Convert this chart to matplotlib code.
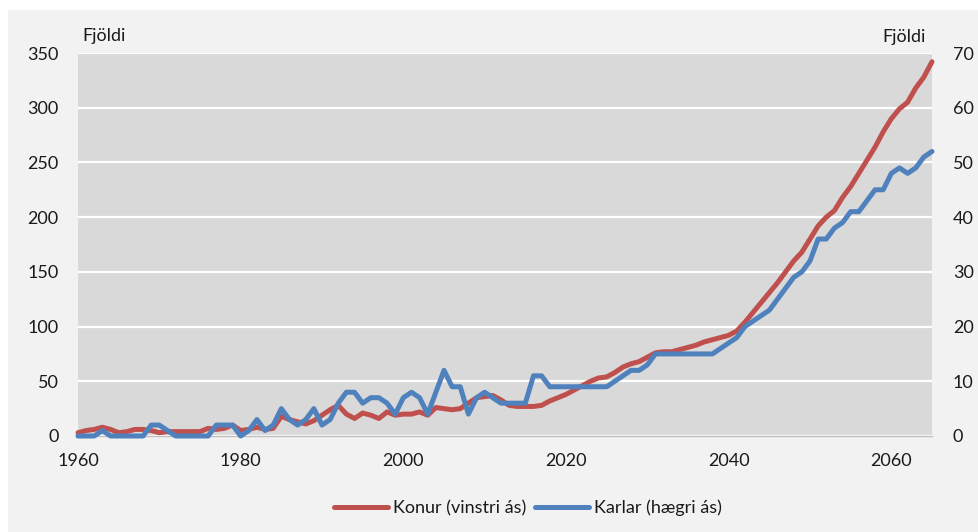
import numpy as np
import matplotlib
matplotlib.use("Agg")
import matplotlib.pyplot as plt
from matplotlib.patches import Rectangle

years = np.arange(1960, 2066)

# Konur (left axis)
konur = [3, 5, 6, 8, 6, 3, 4, 6, 6, 5,
         3, 4, 4, 4, 4, 4, 7, 6, 7, 10,
         5, 6, 8, 6, 7, 18, 15, 13, 11, 14,
         19, 24, 28, 20, 16, 21, 19, 16, 22, 19,
         20, 20, 22, 19, 26, 25, 24, 25, 30, 35,
         36, 37, 33, 28, 27, 27, 27, 28, 32, 35,
         38, 42, 46, 50, 53, 54, 58, 63, 66, 68,
         72, 76, 77, 77, 79, 81, 83, 86, 88, 90,
         92, 96, 104, 113, 122, 131, 140, 150, 160, 168,
         180, 192, 200, 206, 218, 228, 240, 252, 264, 278,
         290, 299, 305, 318, 328, 342]

# Karlar (right axis)
karlar = [0, 0, 0, 1, 0, 0, 0, 0, 0, 2,
          2, 1, 0, 0, 0, 0, 0, 2, 2, 2,
          0, 1, 3, 1, 2, 5, 3, 2, 3, 5,
          2, 3, 6, 8, 8, 6, 7, 7, 6, 4,
          7, 8, 7, 4, 8, 12, 9, 9, 4, 7,
          8, 7, 6, 6, 6, 6, 11, 11, 9, 9,
          9, 9, 9, 9, 9, 9, 10, 11, 12, 12,
          13, 15, 15, 15, 15, 15, 15, 15, 15, 16,
          17, 18, 20, 21, 22, 23, 25, 27, 29, 30,
          32, 36, 36, 38, 39, 41, 41, 43, 45, 45,
          48, 49, 48, 49, 51, 52]

left_ticks = [0, 50, 100, 150, 200, 250, 300, 350]
right_ticks = [0, 10, 20, 30, 40, 50, 60, 70]
x_ticks = [1960, 1980, 2000, 2020, 2040, 2060]

red = "#c0504d"
blue = "#4f81bd"
txt = "#1a1a1a"
plt.rcParams["font.family"] = ["Lato", "DejaVu Sans"]

fig = plt.figure(figsize=(9.79, 5.32), dpi=100, facecolor="white")
fig.patches.append(Rectangle((8 / 979, 0), 1, 1 - 10 / 532, transform=fig.transFigure,
                             facecolor="#f2f2f2", edgecolor="none", zorder=-10))

ax = fig.add_axes([78 / 979, 96 / 532, 854 / 979, 383 / 532])
ax.set_facecolor("#d9d9d9")
ax2 = ax.twinx()

l1, = ax.plot(years, konur, color=red, lw=3.6, solid_joinstyle="round",
              solid_capstyle="round", label="Konur (vinstri ás)", clip_on=False)
l2, = ax2.plot(years, karlar, color=blue, lw=3.6, solid_joinstyle="round",
               solid_capstyle="round", label="Karlar (hægri ás)", clip_on=False)

ax.set_xlim(1960, 2065)
ax.set_ylim(0, 350)
ax2.set_ylim(0, 70)
ax.set_xticks(x_ticks)
ax.set_yticks(left_ticks)
ax2.set_yticks(right_ticks)

ax.grid(axis="y", color="white", lw=1.6)
ax.set_axisbelow(True)
for a in (ax, ax2):
    for s in a.spines.values():
        s.set_visible(False)
    a.tick_params(length=0, labelsize=13, colors=txt)
ax.spines["bottom"].set_visible(True)
ax.spines["bottom"].set_color("#bfbfbf")
ax.spines["bottom"].set_linewidth(1)
ax.tick_params(axis="y", pad=14)
ax2.tick_params(axis="y", pad=15)
ax.tick_params(axis="x", pad=12)

fig.text(82 / 979, 1 - 36 / 532, "Fjöldi", fontsize=13, color=txt, va="center", ha="left")
fig.text(926 / 979, 1 - 37 / 532, "Fjöldi", fontsize=13, color=txt, va="center", ha="right")

fig.legend(handles=[l1, l2], loc="center", bbox_to_anchor=(528 / 979, 1 - 508 / 532),
           ncol=2, frameon=False, fontsize=13, handlelength=3.0, handletextpad=0.25,
           columnspacing=0.5, labelcolor=txt)

fig.savefig("out.png", dpi=100, facecolor=fig.get_facecolor())
